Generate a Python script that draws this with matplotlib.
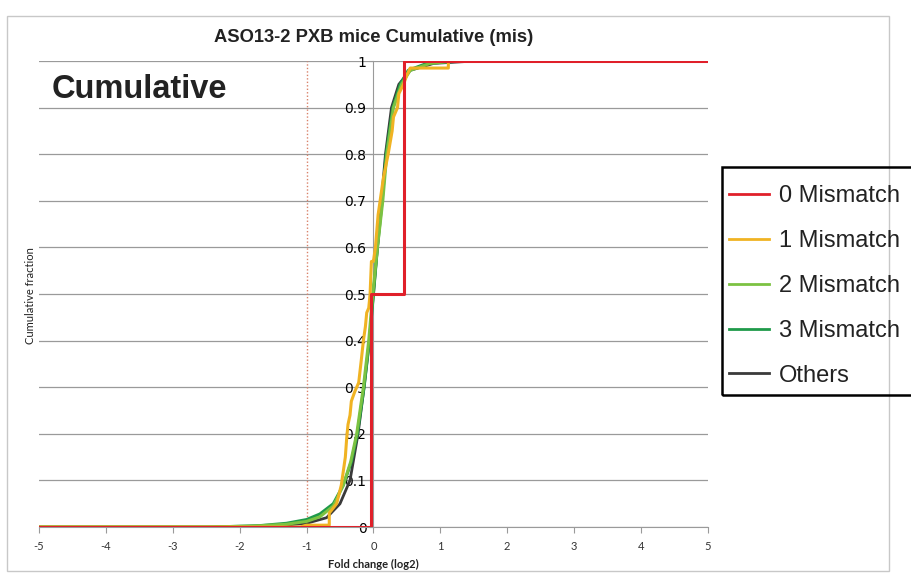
import matplotlib
matplotlib.use("Agg")
import matplotlib.pyplot as plt
from matplotlib.patches import Rectangle

# cumulative fraction curves, points read along each series (fold change log2, fraction)
mis0_x = [-5, -0.03, -0.03, 0.45, 0.45, 5]
mis0_y = [0, 0, 0.5, 0.5, 1.0, 1.0]

mis1_x = [-5, -1.1, -1.0, -0.66, -0.66, -0.55, -0.48, -0.45, -0.42, -0.40, -0.38, -0.35,
          -0.33, -0.28, -0.22, -0.18, -0.15, -0.12, -0.10, -0.07, -0.05, -0.03, 0.0,
          0.03, 0.07, 0.10, 0.15, 0.22, 0.28, 0.30, 0.36, 0.38, 0.45, 0.50, 0.55,
          1.12, 1.12, 5]
mis1_y = [0, 0, 0.004, 0.004, 0.03, 0.05, 0.09, 0.12, 0.15, 0.19, 0.22, 0.24,
          0.27, 0.29, 0.31, 0.36, 0.40, 0.43, 0.46, 0.47, 0.50, 0.57, 0.57,
          0.60, 0.67, 0.70, 0.75, 0.80, 0.85, 0.88, 0.90, 0.93, 0.95, 0.97, 0.985,
          0.985, 1.0, 1.0]

mis2_x = [-5, -2.5, -1.8, -1.3, -1.0, -0.8, -0.6, -0.45, -0.34, -0.25, -0.15, -0.07,
          -0.01, 0.06, 0.14, 0.20, 0.30, 0.42, 0.55, 0.85, 1.2, 5]
mis2_y = [0, 0, 0.002, 0.006, 0.012, 0.022, 0.045, 0.09, 0.14, 0.20, 0.30, 0.40,
          0.50, 0.60, 0.70, 0.80, 0.90, 0.95, 0.98, 0.995, 1.0, 1.0]

mis3_x = [-5, -2.4, -1.7, -1.3, -1.0, -0.8, -0.6, -0.45, -0.33, -0.24, -0.14, -0.06,
          0.0, 0.06, 0.13, 0.19, 0.29, 0.40, 0.52, 0.80, 1.3, 5]
mis3_y = [0, 0, 0.003, 0.008, 0.016, 0.028, 0.05, 0.09, 0.14, 0.20, 0.30, 0.40,
          0.50, 0.60, 0.70, 0.80, 0.90, 0.95, 0.98, 0.995, 1.0, 1.0]

other_x = [-5, -2.5, -1.5, -1.0, -0.7, -0.5, -0.35, -0.23, -0.14, -0.06, 0.0, 0.06,
           0.12, 0.18, 0.27, 0.38, 0.55, 0.90, 1.5, 5]
other_y = [0, 0, 0.002, 0.008, 0.02, 0.05, 0.10, 0.20, 0.30, 0.40, 0.50, 0.60,
           0.70, 0.80, 0.90, 0.95, 0.98, 0.995, 1.0, 1.0]

x_ticks = [-5, -4, -3, -2, -1, 0, 1, 2, 3, 4, 5]
y_ticks = [0, 0.1, 0.2, 0.3, 0.4, 0.5, 0.6, 0.7, 0.8, 0.9, 1]
y_labels = ["0", "0.1", "0.2", "0.3", "0.4", "0.5", "0.6", "0.7", "0.8", "0.9", "1"]

fig = plt.figure(figsize=(9.11, 5.76), dpi=100)
ax = fig.add_axes([0.0428, 0.085, 0.7342, 0.809])

# chart area frame
fig.patches.append(Rectangle((7 / 911, 1 - 571 / 576), 882 / 911, 555 / 576,
                             transform=fig.transFigure, fill=False,
                             edgecolor="#c8c8c8", linewidth=1.0, zorder=0))

for yv in y_ticks:
    ax.axhline(yv, color="#9a9a9a", linewidth=0.9, zorder=0)
ax.axvline(-1, ymin=0, ymax=1, color="#d9826a", linewidth=1.0, linestyle=(0, (1, 1.5)), zorder=1)

ax.plot(other_x, other_y, color="#3a3a3a", linewidth=2, label="Others", zorder=2)
ax.plot(mis3_x, mis3_y, color="#1f9a4a", linewidth=2.2, label="3 Mismatch", zorder=3)
ax.plot(mis2_x, mis2_y, color="#7cc242", linewidth=2.2, label="2 Mismatch", zorder=3)
ax.plot(mis1_x, mis1_y, color="#f0b323", linewidth=2.2, label="1 Mismatch", zorder=4)
ax.plot(mis0_x, mis0_y, color="#e0202a", linewidth=2.2, label="0 Mismatch", zorder=5)

ax.set_xlim(-5, 5)
ax.set_ylim(0, 1)
ax.set_xticks(x_ticks)
ax.set_xticklabels([str(v) for v in x_ticks], fontfamily="Lato", fontsize=8, color="#333333")
ax.set_yticks(y_ticks)
ax.set_yticklabels(y_labels, fontfamily="DejaVu Sans", fontsize=8, color="#444444")

ax.spines["left"].set_position(("data", 0))
ax.spines["left"].set_color("#9a9a9a")
ax.spines["bottom"].set_color("#9a9a9a")
ax.spines["top"].set_visible(False)
ax.spines["right"].set_visible(False)
ax.tick_params(axis="x", direction="out", length=4, color="#9a9a9a", pad=6)
ax.tick_params(axis="y", direction="out", length=3, color="#9a9a9a", pad=2)

ax.set_title("ASO13-2 PXB mice Cumulative (mis)", fontfamily="Liberation Sans",
             fontsize=13.2, fontweight="bold", color="#222222", pad=14)
ax.set_xlabel("Fold change (log2)", fontfamily="Lato", fontsize=8,
              fontweight="bold", color="#222222", labelpad=5)
fig.text(0.033, 0.487, "Cumulative fraction", rotation=90, fontfamily="Lato",
         fontsize=8, color="#222222", ha="center", va="center")

fig.text(52 / 911, 1 - 89 / 576, "Cumulative", fontfamily="Liberation Sans",
         fontsize=23.5, fontweight="bold", color="#222222", ha="left", va="center")

# legend box drawn separately so its padding can differ from the entry spacing
fig.patches.append(Rectangle((722 / 911, 1 - 395 / 576), 200 / 911, 228 / 576,
                             transform=fig.transFigure, fill=False,
                             edgecolor="black", linewidth=1.8, zorder=10))

handles, labels = ax.get_legend_handles_labels()
order = [4, 3, 2, 1, 0]
leg = fig.legend([handles[i] for i in order], [labels[i] for i in order],
                 loc="upper left", bbox_to_anchor=(722 / 911, 1 - 178 / 576),
                 prop={"family": "Liberation Sans", "size": 17},
                 frameon=False, handlelength=1.7, handletextpad=0.4,
                 labelspacing=0.97, borderpad=0.3, borderaxespad=0)
for line in leg.get_lines():
    line.set_linewidth(2)
for txt in leg.get_texts():
    txt.set_color("#222222")

fig.savefig("out.png", dpi=100)
